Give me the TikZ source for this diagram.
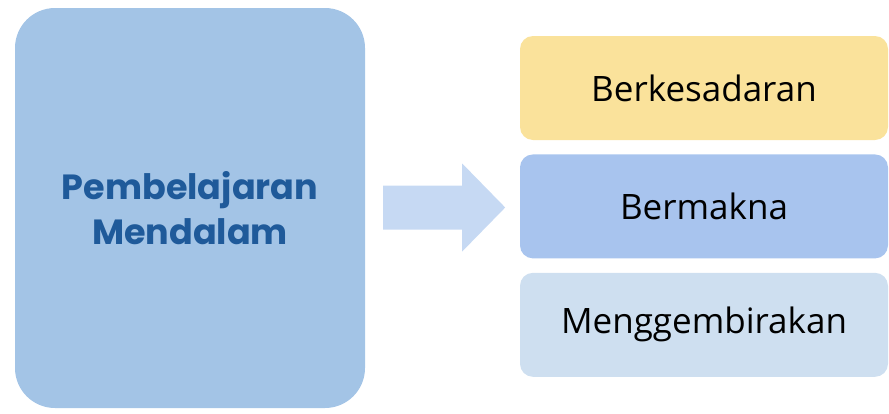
\documentclass[tikz,border=0pt]{standalone}
\usepackage{fontspec}
\setmainfont{Open Sans}
\newfontfamily\titelfont{Poppins}
\usetikzlibrary{positioning}

\definecolor{linksblau}{HTML}{A3C4E6}
\definecolor{titelblau}{HTML}{1F5A9A}
\definecolor{pfeilblau}{HTML}{C6D9F3}
\definecolor{gelb}{HTML}{FAE29B}
\definecolor{mittelblau}{HTML}{A8C4EE}
\definecolor{hellblau}{HTML}{CEDFF0}

\tikzset{
  hauptbox/.style={fill=linksblau,rounded corners=40pt,minimum width=350pt,minimum height=400pt,
    align=center,font=\titelfont\bfseries\fontsize{35}{45}\selectfont,text=titelblau},
  zielbox/.style={rounded corners=13pt,minimum width=368pt,minimum height=104pt,
    font=\fontsize{35}{40}\selectfont,text=black}
}

\begin{document}
\begin{tikzpicture}[x=1pt,y=-1pt]
    % Rahmen
    \useasboundingbox (0,0) rectangle (889,413);

    % Linke Box
    \node[hauptbox] (haupt) at (190,208) {Pembelajaran\\Mendalam};

    % Pfeil
    \coordinate[right=18pt of haupt] (pfeilstart);
    \fill[pfeilblau] (pfeilstart) ++(0,-22.5) -- ++(79,0) -- ++(0,-22) -- ++(43,44)
        -- ++(-43,44) -- ++(0,-22) -- ++(-79,0) -- cycle;

    % Rechte Boxen
    \node[zielbox,fill=gelb] (bewusst) at (704,88) {Berkesadaran};
    \node[zielbox,fill=mittelblau,below=14pt of bewusst] (sinn) {Bermakna};
    \node[zielbox,fill=hellblau,below=14pt of sinn] (freude) {Menggembirakan};
\end{tikzpicture}
\end{document}
